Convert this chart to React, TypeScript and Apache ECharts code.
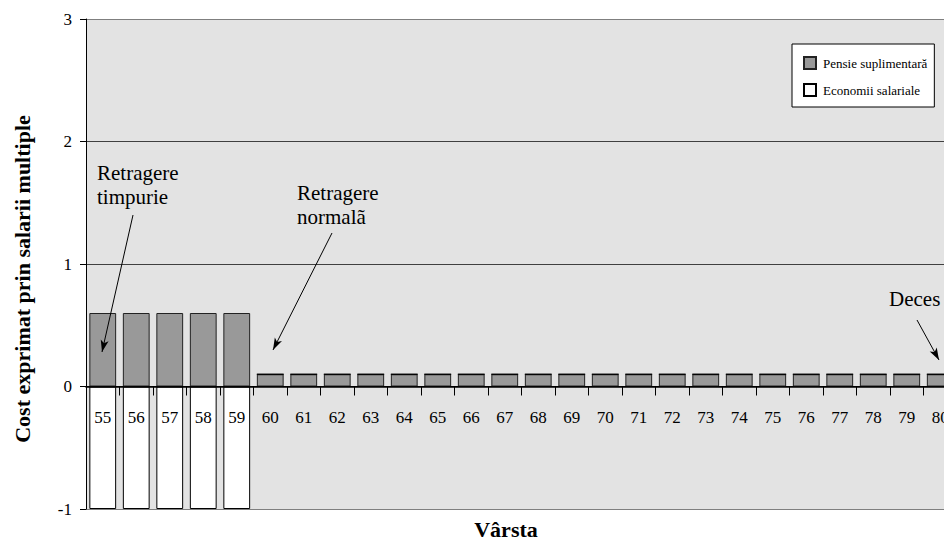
import React, { useEffect, useRef } from "react";
import * as echarts from "echarts";

const ages = ["55","56","57","58","59","60","61","62","63","64","65","66","67","68","69","70","71","72","73","74","75","76","77","78","79","80"];
const pensieSuplimentara = [0.6,0.6,0.6,0.6,0.6,0.1,0.1,0.1,0.1,0.1,0.1,0.1,0.1,0.1,0.1,0.1,0.1,0.1,0.1,0.1,0.1,0.1,0.1,0.1,0.1,0.1];
const economiiSalariale = [-1,-1,-1,-1,-1,0,0,0,0,0,0,0,0,0,0,0,0,0,0,0,0,0,0,0,0,0];
const seriesNames = ["Pensie suplimentară", "Economii salariale"];
const yTicks = { min: -1, max: 3, interval: 1 };

const FAMILY = "Liberation Serif";
const FONT = "'Liberation Serif', serif";

const GRID_TOP = 19;
const GRID_HEIGHT = 490;
// distance of the value 0 above the bottom edge of the plot
const zeroOffset = -GRID_HEIGHT * (0 - yTicks.min) / (yTicks.max - yTicks.min);

export default function App() {
  const ref = useRef<HTMLDivElement>(null);
  useEffect(() => {
    if (!ref.current) return;
    const chart = echarts.init(ref.current, undefined, { renderer: "svg" });
    chart.setOption({
      animation: false,
      backgroundColor: "#ffffff",
      textStyle: { fontFamily: FAMILY },
      grid: {
        left: 86,
        top: GRID_TOP,
        width: 871,
        height: GRID_HEIGHT,
        show: true,
        backgroundColor: "#e3e3e3",
        borderWidth: 0,
        containLabel: false,
        outerBoundsMode: "none",
      },
      legend: {
        orient: "vertical",
        left: 792,
        top: 44,
        padding: [12, 7, 10, 11],
        itemWidth: 12,
        itemHeight: 12,
        itemGap: 13,
        icon: "rect",
        backgroundColor: "#ffffff",
        borderColor: "#000000",
        borderWidth: 1,
        borderRadius: 0,
        textStyle: { fontFamily: FAMILY, fontSize: 13, color: "#000", padding: [0, 0, 0, 2] },
        data: seriesNames,
      },
      xAxis: {
        type: "category",
        data: ages,
        z: 10,
        position: "bottom",
        offset: zeroOffset,
        axisLine: { onZero: false, lineStyle: { color: "#000", width: 1.5 } },
        axisTick: { show: true, interval: 0, length: 9, lineStyle: { color: "#000" } },
        axisLabel: { interval: 0, margin: 22, fontSize: 17, color: "#000", fontFamily: FAMILY },
        splitLine: { show: false },
      },
      yAxis: {
        type: "value",
        min: yTicks.min,
        max: yTicks.max,
        interval: yTicks.interval,
        axisLine: { show: true, lineStyle: { color: "#000" } },
        axisTick: { show: true, length: 6, lineStyle: { color: "#000" } },
        axisLabel: { margin: 14, fontSize: 17, color: "#000", fontFamily: FAMILY },
        splitLine: {
          show: true,
          lineStyle: { color: ["#7f7f7f", "#000000", "#404040", "#404040", "#7f7f7f"], width: 1 },
        },
      },
      series: [
        {
          name: seriesNames[0],
          type: "bar",
          stack: "total",
          data: pensieSuplimentara,
          barCategoryGap: "20%",
          itemStyle: { color: "#999999", borderColor: "#222222", borderWidth: 1 },
          markLine: {
            silent: true,
            symbol: ["none", "arrow"],
            symbolSize: [6, 12],
            label: { show: false },
            lineStyle: { color: "#000", width: 1, type: "solid" },
            data: [
              [{ x: 133, y: 215 }, { x: 102, y: 352 }],
              [{ x: 332, y: 233 }, { x: 273, y: 350 }],
              [{ x: 917, y: 320 }, { x: 939, y: 360 }],
            ],
          },
        },
        {
          name: seriesNames[1],
          type: "bar",
          stack: "total",
          data: economiiSalariale,
          barCategoryGap: "20%",
          itemStyle: { color: "#ffffff", borderColor: "#000000", borderWidth: 1 },
        },
      ],
      graphic: [
        {
          type: "text",
          left: 97,
          top: 161,
          style: { text: "Retragere\ntimpurie", font: `21px ${FONT}`, fill: "#000", lineHeight: 24 },
        },
        {
          type: "text",
          left: 297,
          top: 181,
          style: { text: "Retragere\nnormalã", font: `21px ${FONT}`, fill: "#000", lineHeight: 24 },
        },
        {
          type: "text",
          left: 889,
          top: 287,
          style: { text: "Deces", font: `21px ${FONT}`, fill: "#000", lineHeight: 24 },
        },
        {
          type: "text",
          x: 506,
          y: 529,
          style: {
            text: "Vârsta",
            font: `bold 22px ${FONT}`,
            fill: "#000",
            align: "center",
            verticalAlign: "middle",
          },
        },
        {
          type: "text",
          x: 22,
          y: 279,
          rotation: Math.PI / 2,
          style: {
            text: "Cost exprimat prin salarii multiple",
            font: `bold 22px ${FONT}`,
            fill: "#000",
            align: "center",
            verticalAlign: "middle",
          },
        },
      ],
    });
    return () => chart.dispose();
  }, []);
  return (
    <>
      <style>{`.serif-chart svg text { font-family: "Liberation Serif", "Times New Roman", serif !important; }`}</style>
      <div
        ref={ref}
        className="serif-chart"
        style={{ position: "fixed", left: 0, top: 0, width: 944, height: 539 }}
      />
    </>
  );
}
